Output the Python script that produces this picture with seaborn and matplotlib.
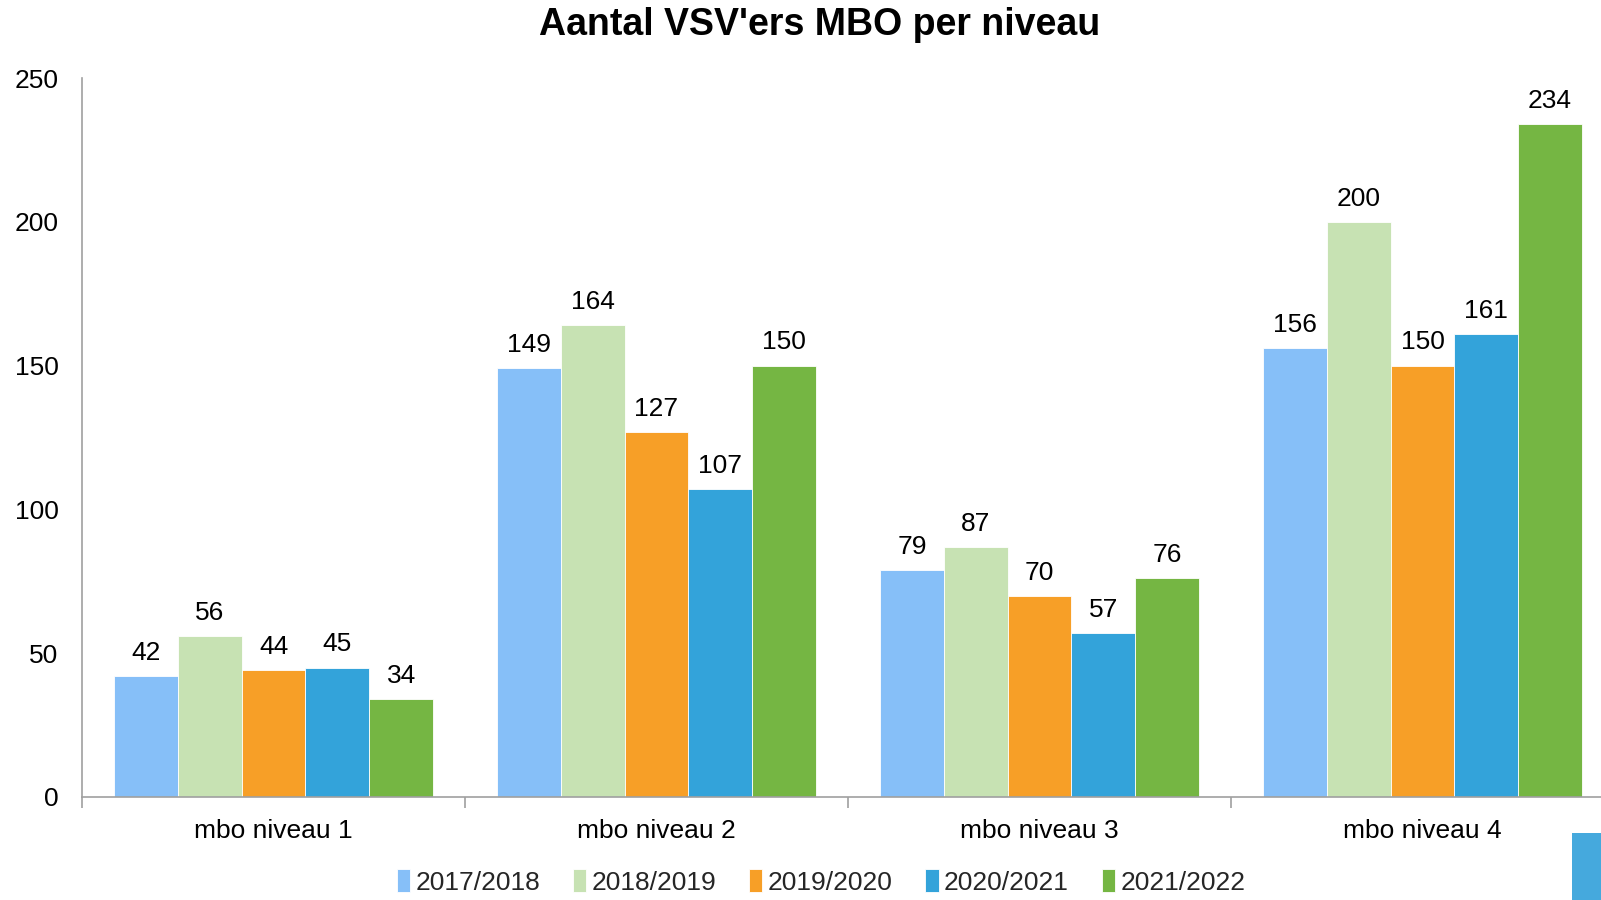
import matplotlib
matplotlib.use("Agg")
import matplotlib.pyplot as plt
import seaborn as sns
import pandas as pd
from matplotlib.patches import Rectangle
from matplotlib.ticker import FixedLocator

categories = ["mbo niveau 1", "mbo niveau 2", "mbo niveau 3", "mbo niveau 4"]
years = ["2017/2018", "2018/2019", "2019/2020", "2020/2021", "2021/2022"]
v_2017_2018 = [42, 149, 79, 156]
v_2018_2019 = [56, 164, 87, 200]
v_2019_2020 = [44, 127, 70, 150]
v_2020_2021 = [45, 107, 57, 161]
v_2021_2022 = [34, 150, 76, 234]
series = [v_2017_2018, v_2018_2019, v_2019_2020, v_2020_2021, v_2021_2022]
colors = ["#86bff8", "#c7e2b3", "#f79f27", "#33a3da", "#75b643"]

rows = []
for y, vals in zip(years, series):
    for c, v in zip(categories, vals):
        rows.append({"niveau": c, "jaar": y, "aantal": v})
df = pd.DataFrame(rows)

sns.set_theme(style="white")
plt.rcParams["font.family"] = ["Liberation Sans", "DejaVu Sans"]

fig = plt.figure(figsize=(16.01, 9.0), dpi=100)
ax = fig.add_axes([82/1601, 103/900, 1532/1601, 719/900])

sns.barplot(data=df, x="niveau", y="aantal", hue="jaar", order=categories,
            hue_order=years, palette=colors, width=0.833, ax=ax,
            edgecolor="white", linewidth=0.6, saturation=1, legend=True)

for cont in ax.containers:
    ax.bar_label(cont, fmt="%d", padding=8, fontsize=19, color="black")

ax.set_ylim(0, 250)
ax.set_xlim(-0.5, 3.5)
ax.set_yticks([0, 50, 100, 150, 200, 250])
ax.tick_params(axis="y", length=0, pad=17, labelsize=19, colors="black")
ax.tick_params(axis="x", which="major", length=0, pad=16, labelsize=19, colors="black")
ax.xaxis.set_minor_locator(FixedLocator([-0.5, 0.5, 1.5, 2.5, 3.5]))
ax.tick_params(axis="x", which="minor", length=8, width=1.2, color="#a0a0a0", bottom=True)
ax.set_xlabel("")
ax.set_ylabel("")
for s in ["top", "right"]:
    ax.spines[s].set_visible(False)
for s in ["left", "bottom"]:
    ax.spines[s].set_color("#a0a0a0")
    ax.spines[s].set_linewidth(1.2)

leg = ax.get_legend()
leg.remove()
handles, labels = ax.get_legend_handles_labels()
fig.legend(handles[:5], labels[:5], loc="center", bbox_to_anchor=(821/1601, 1 - 882/900),
           ncol=5, frameon=False, handlelength=0.5, handleheight=0.95,
           handletextpad=0.2, columnspacing=1.25,
           prop={"family": ["Liberation Sans"], "size": 19})

fig.text(820/1601, 1 - 25/900, "Aantal VSV'ers MBO per niveau", ha="center", va="center",
         fontsize=27, fontweight="bold", color="black")

fig.patches.append(Rectangle((1572/1601, 0), 29/1601, 67/900, transform=fig.transFigure,
                             facecolor="#45a9dd", edgecolor="none", figure=fig))

fig.savefig("out.png", dpi=100)
